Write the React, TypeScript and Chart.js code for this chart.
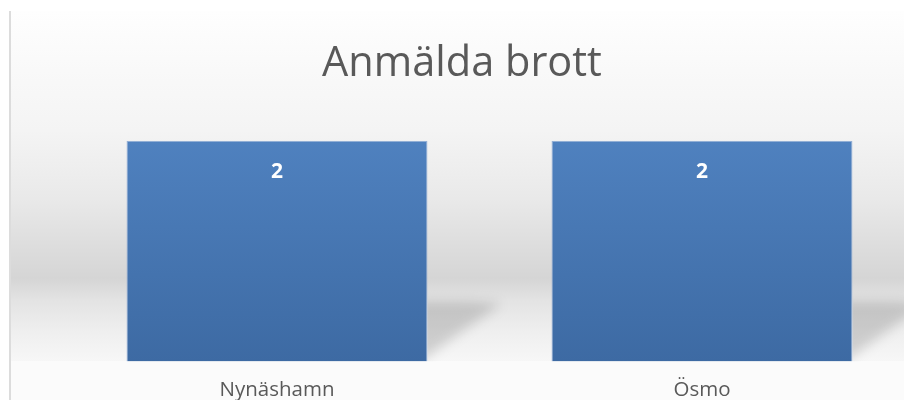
import React, { useEffect, useRef } from 'react';
import { Chart, registerables } from 'chart.js';

Chart.register(...registerables);

const chartTitle = 'Anmälda brott';
const categories = ['Nynäshamn', 'Ösmo'];
const values = [2, 2];
const yMin = 0;
const yMax = 2;

const FONT = "'Open Sans', sans-serif";

const backgroundPlugin = {
  id: 'bgPlugin',
  beforeDraw(chart: any) {
    const { ctx, chartArea } = chart;
    const w = chart.width;
    const h = chart.height;
    const bottom = chartArea.bottom;
    ctx.save();
    ctx.fillStyle = '#ffffff';
    ctx.fillRect(0, 0, w, h);
    const g = ctx.createLinearGradient(0, 0, 0, bottom);
    g.addColorStop(0, '#ffffff');
    g.addColorStop(0.36, '#f4f4f4');
    g.addColorStop(0.55, '#e9e9e9');
    g.addColorStop(0.77, '#d5d5d5');
    g.addColorStop(0.83, '#e3e3e3');
    g.addColorStop(0.92, '#efefef');
    g.addColorStop(1, '#f7f7f7');
    ctx.fillStyle = g;
    ctx.fillRect(11, 11, w - 11, bottom - 11);
    ctx.fillStyle = '#fbfbfb';
    ctx.fillRect(11, bottom, w - 11, h - bottom);
    ctx.fillStyle = '#dcdcdc';
    ctx.fillRect(9, 11, 2, h - 11);
    ctx.restore();
  },
};

const shadowPlugin = {
  id: 'shadowPlugin',
  beforeDatasetsDraw(chart: any) {
    const { ctx } = chart;
    const meta = chart.getDatasetMeta(0);
    meta.data.forEach((bar: any) => {
      const right = bar.x + bar.width / 2;
      const base = bar.base;
      ctx.save();
      ctx.beginPath();
      ctx.rect(right, 0, 200, base);
      ctx.clip();
      ctx.filter = 'blur(6px)';
      ctx.fillStyle = 'rgba(0,0,0,0.15)';
      ctx.beginPath();
      ctx.moveTo(right - 10, base - 60);
      ctx.lineTo(right + 40, base - 60);
      ctx.lineTo(right + 74, base - 58);
      ctx.lineTo(right + 20, base - 20);
      ctx.lineTo(right - 10, base + 2);
      ctx.closePath();
      ctx.fill();
      ctx.restore();
    });
  },
};

const labelPlugin = {
  id: 'labelPlugin',
  afterDatasetsDraw(chart: any) {
    const { ctx } = chart;
    const meta = chart.getDatasetMeta(0);
    ctx.save();
    ctx.font = `bold 21px ${FONT}`;
    ctx.fillStyle = '#ffffff';
    ctx.textAlign = 'center';
    ctx.textBaseline = 'middle';
    meta.data.forEach((bar: any, i: number) => {
      ctx.fillText(String(values[i]), bar.x, bar.y + 31);
    });
    ctx.restore();
  },
};

export default function App() {
  const canvasRef = useRef<HTMLCanvasElement | null>(null);

  useEffect(() => {
    if (!canvasRef.current) return;
    const chart = new Chart(canvasRef.current, {
      type: 'bar',
      data: {
        labels: categories,
        datasets: [
          {
            data: values,
            backgroundColor: (c: any) => {
              const ch = c.chart;
              const ca = ch.chartArea;
              if (!ca) return '#4a7ab5';
              const g = ch.ctx.createLinearGradient(0, ca.top, 0, ca.bottom);
              g.addColorStop(0, '#4f81bf');
              g.addColorStop(1, '#3d6aa3');
              return g;
            },
            borderColor: 'rgba(135,165,210,0.9)',
            borderWidth: 1,
            categoryPercentage: 1,
            barPercentage: 0.708,
          },
        ],
      },
      options: {
        animation: false,
        responsive: true,
        maintainAspectRatio: false,
        layout: { padding: { left: 9.5, right: 9.5, top: 0, bottom: 4 } },
        plugins: {
          legend: { display: false },
          tooltip: { enabled: false },
          title: {
            display: true,
            text: chartTitle,
            color: '#595959',
            font: { family: FONT, size: 41.5, weight: 'normal', lineHeight: 1.2 },
            padding: { top: 39, bottom: 52 },
          },
        },
        scales: {
          x: {
            grid: { display: false, drawTicks: false },
            border: { display: false },
            ticks: {
              color: '#595959',
              font: { family: FONT, size: 20.5 },
              padding: 16,
            },
          },
          y: {
            display: true,
            min: yMin,
            max: yMax,
            grid: { display: false, drawTicks: false },
            border: { display: false },
            ticks: { display: false },
            afterFit: (scale: any) => {
              scale.width = 55;
            },
          },
        },
      },
      plugins: [backgroundPlugin, shadowPlugin, labelPlugin],
    } as any);
    return () => chart.destroy();
  }, []);

  return (
    <div style={{ position: 'absolute', left: 0, top: 0, width: 904, height: 400, overflow: 'hidden' }}>
      <div style={{ position: 'relative', width: 924, height: 422 }}>
        <canvas ref={canvasRef} />
      </div>
    </div>
  );
}
